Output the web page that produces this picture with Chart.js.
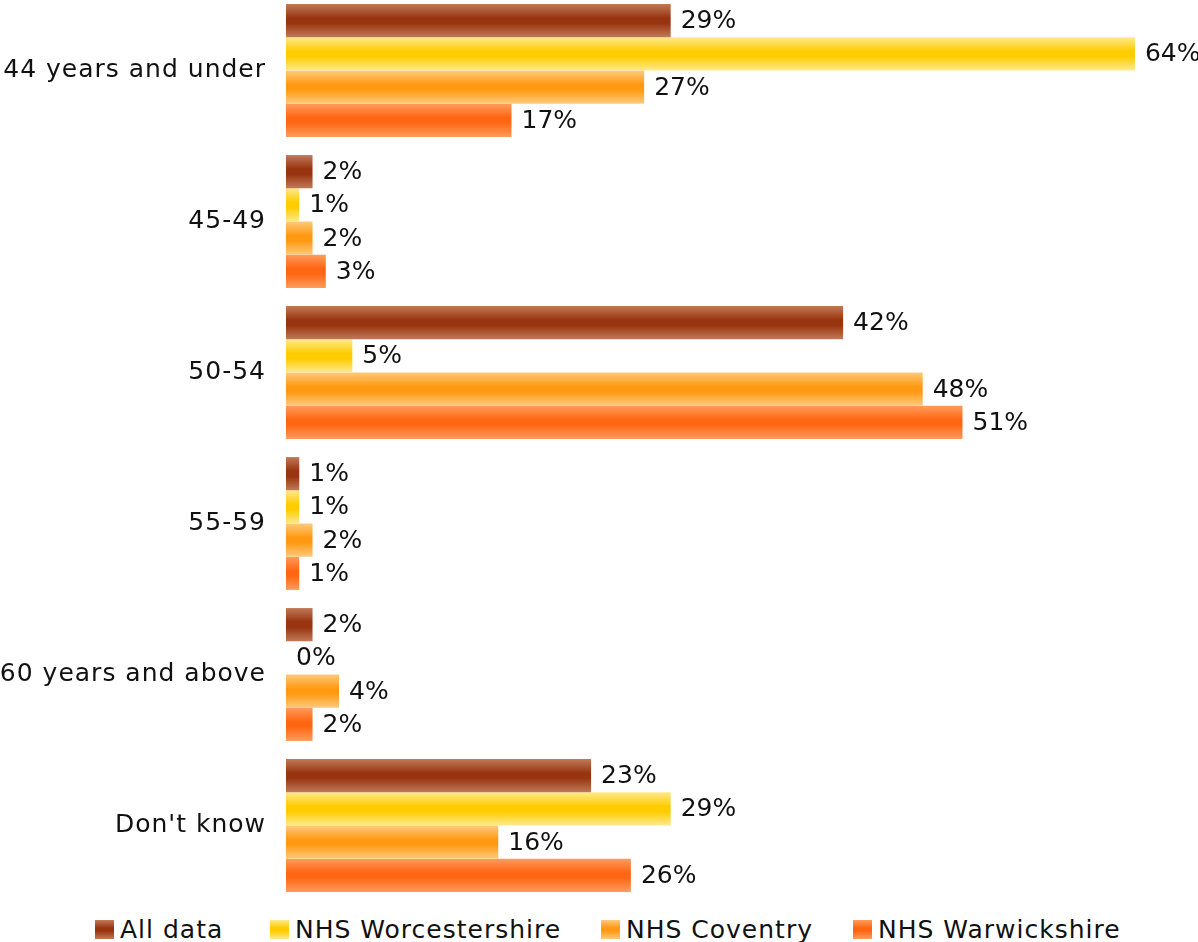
<!DOCTYPE html>
<html>
<head>
<meta charset="utf-8">
<script src="https://cdn.jsdelivr.net/npm/chart.js@4.4.1/dist/chart.umd.min.js"></script>
<style>
    body { margin: 0; background: #fff; }
    #wrap { position: relative; width: 1198px; height: 942px; overflow: hidden; font-family: "DejaVu Sans", Verdana, sans-serif; }
    #chartBox { position: absolute; left: 0; top: -5px; width: 1198px; height: 906px; }
    .legend-item { position: absolute; top: 920px; display: flex; align-items: center; height: 19px; font-size: 25px; letter-spacing: 1px; color: #111; white-space: nowrap; }
    .legend-box { width: 19px; height: 19px; margin-right: 6px; flex: none; }
</style>
</head>
<body>
<div id="wrap">
    <div id="chartBox"><canvas id="ageChart" width="1198" height="906"></canvas></div>
    <div id="legend"></div>
</div>
<script>
// Age groups and survey percentages per area
const ageGroups = ['44 years and under', '45-49', '50-54', '55-59', '60 years and above', "Don't know"];
const seriesNames = ['All data', 'NHS Worcestershire', 'NHS Coventry', 'NHS Warwickshire'];
const allData = [29, 2, 42, 1, 2, 23];
const worcestershire = [64, 1, 5, 1, 0, 29];
const coventry = [27, 2, 48, 2, 4, 16];
const warwickshire = [17, 3, 51, 1, 2, 26];

// Light edge / dark middle for each series' shaded bars
const shades = [
    { edge: '#c07a58', mid: '#98340f' },
    { edge: '#ffe98e', mid: '#ffcc00' },
    { edge: '#ffca7c', mid: '#ff9912' },
    { edge: '#ff9c5c', mid: '#ff6612' }
];

const categoryPct = 0.88;

function barGradient(context) {
    const chart = context.chart;
    const yScale = chart.scales.y;
    const shade = shades[context.datasetIndex];
    if (!yScale || context.dataIndex === undefined) return shade.mid;
    const band = yScale.height / ageGroups.length;
    const thick = band * categoryPct / seriesNames.length;
    const centre = yScale.getPixelForValue(context.dataIndex);
    const top = centre - thick * seriesNames.length / 2 + thick * context.datasetIndex;
    if (!isFinite(top) || !isFinite(thick)) return shade.mid;
    const g = chart.ctx.createLinearGradient(0, top, 0, top + thick);
    g.addColorStop(0, shade.edge);
    g.addColorStop(0.42, shade.mid);
    g.addColorStop(0.58, shade.mid);
    g.addColorStop(1, shade.edge);
    return g;
}

// Slightly wider spacing for the category names
const tickSpacing = {
    id: 'tickSpacing',
    beforeDraw(chart) { chart.ctx.letterSpacing = '1px'; }
};

// Percent labels at the end of every bar
const valueLabels = {
    id: 'valueLabels',
    afterDatasetsDraw(chart) {
        const ctx = chart.ctx;
        ctx.save();
        ctx.letterSpacing = '0px';
        ctx.font = '25px "DejaVu Sans", Verdana, sans-serif';
        ctx.fillStyle = '#111';
        ctx.textAlign = 'left';
        ctx.textBaseline = 'middle';
        chart.data.datasets.forEach((ds, i) => {
            const meta = chart.getDatasetMeta(i);
            meta.data.forEach((bar, j) => {
                ctx.fillText(ds.data[j] + '%', bar.x + 10, bar.y + 1);
            });
        });
        ctx.restore();
    }
};

const seriesValues = [allData, worcestershire, coventry, warwickshire];

const chart = new Chart(document.getElementById('ageChart'), {
    type: 'bar',
    data: {
        labels: ageGroups,
        datasets: seriesNames.map((name, i) => ({
            label: name,
            data: seriesValues[i],
            backgroundColor: barGradient,
            borderWidth: 0,
            categoryPercentage: categoryPct,
            barPercentage: 1
        }))
    },
    options: {
        indexAxis: 'y',
        responsive: false,
        animation: false,
        layout: { padding: { left: 0, right: 10, top: 0, bottom: 0 } },
        scales: {
            x: {
                display: false,
                min: 0,
                max: 68
            },
            y: {
                grid: { display: false, drawTicks: false },
                border: { display: false },
                ticks: {
                    padding: 20,
                    color: '#111',
                    font: { family: '"DejaVu Sans", Verdana, sans-serif', size: 25 }
                },
                afterFit(scale) {
                    scale.width = 286;
                    scale.paddingTop = 0;
                    scale.paddingBottom = 0;
                }
            }
        },
        plugins: {
            legend: { display: false },
            tooltip: { enabled: false }
        }
    },
    plugins: [tickSpacing, valueLabels]
});
// second pass so the bar gradients see the laid-out scale
chart.update();

// Legend under the chart
const legendLeft = [95, 270, 601, 853];
const legend = document.getElementById('legend');
seriesNames.forEach((name, i) => {
    const item = document.createElement('div');
    item.className = 'legend-item';
    item.style.left = legendLeft[i] + 'px';
    const box = document.createElement('span');
    box.className = 'legend-box';
    box.style.background = `linear-gradient(${shades[i].edge}, ${shades[i].mid} 42%, ${shades[i].mid} 58%, ${shades[i].edge})`;
    const text = document.createElement('span');
    text.textContent = name;
    item.appendChild(box);
    item.appendChild(text);
    legend.appendChild(item);
});
</script>
</body>
</html>
